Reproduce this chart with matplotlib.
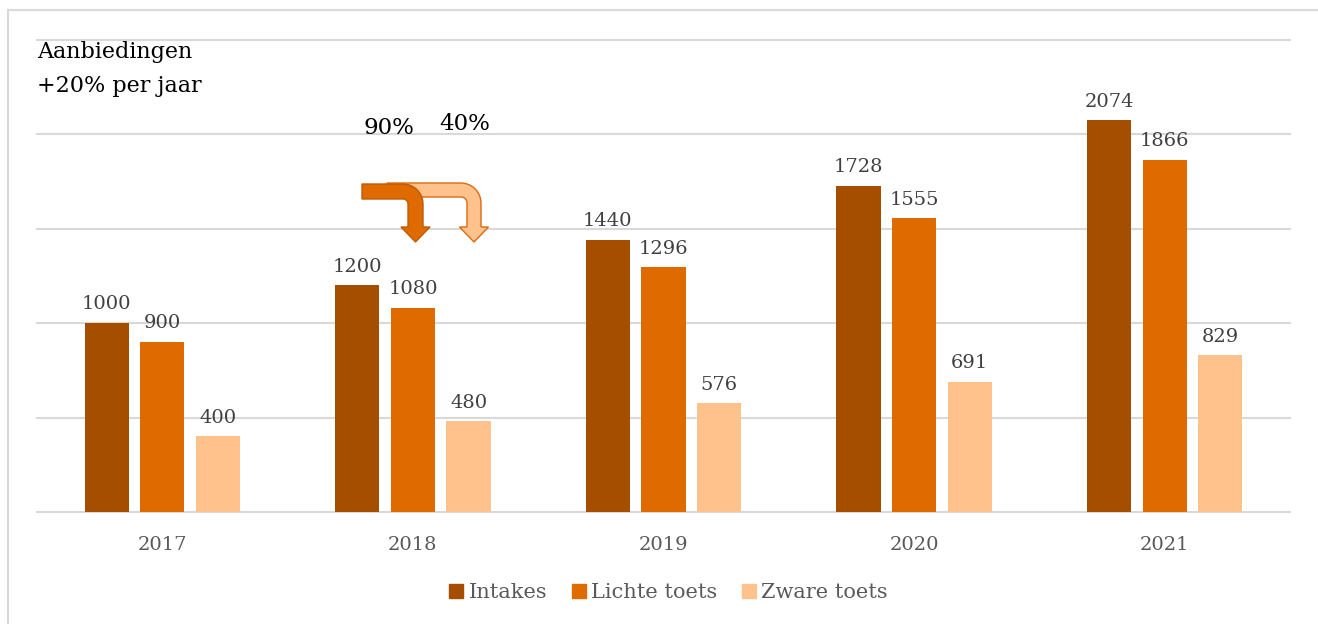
import matplotlib.pyplot as plt
import numpy as np
from matplotlib.patches import Polygon
from matplotlib.lines import Line2D

# Gegevens
years = ["2017", "2018", "2019", "2020", "2021"]
intakes = [1000, 1200, 1440, 1728, 2074]
lichte = [900, 1080, 1296, 1555, 1866]
zware = [400, 480, 576, 691, 829]
series_names = ["Intakes", "Lichte toets", "Zware toets"]
colors = ["#A64E00", "#DE6A00", "#FFC28C"]

W, H = 1318, 624
plt.rcParams['font.family'] = ['DejaVu Serif']

fig = plt.figure(figsize=(W / 100, H / 100), dpi=100)


def px(x, y):
    # pixel (vanaf linksboven) -> figuur-fractie
    return (x / W, 1 - y / H)


ax = fig.add_axes([37 / W, 1 - 512 / H, (1290 - 37) / W, (512 - 40) / H])

x = np.arange(len(years))
width = 0.176
step = 0.222
for i, (vals, name, c) in enumerate(zip([intakes, lichte, zware], series_names, colors)):
    pos = x + (i - 1) * step
    ax.bar(pos, vals, width, color=c, label=name, zorder=3)
    for p, v in zip(pos, vals):
        ax.annotate(str(v), (p, v), xytext=(0, 7), textcoords="offset points",
                    ha="center", va="bottom", fontsize=14, color="#404040")

ax.set_xlim(-0.5, len(years) - 0.5)
ax.set_ylim(0, 2500)
ax.set_yticks(np.arange(0, 2501, 500))
ax.set_yticklabels([])
ax.tick_params(axis="y", length=0)
ax.tick_params(axis="x", length=0, pad=17, labelsize=14, labelcolor="#595959")
ax.set_xticks(x)
ax.set_xticklabels(years)
ax.grid(axis="y", color="#d9d9d9", linewidth=1.5, zorder=0)
for gl in ax.get_ygridlines():
    gl.set_clip_on(False)
for s in ax.spines.values():
    s.set_visible(False)

# legenda
handles = [Line2D([], [], marker="s", linestyle="", markersize=10,
                  markerfacecolor=c, markeredgecolor=c) for c in colors]
fig.legend(handles, series_names, loc="center", bbox_to_anchor=px(668, 593),
           ncol=3, frameon=False, fontsize=15, labelcolor="#595959",
           handletextpad=0.2, columnspacing=1.1, handlelength=0.8)

# titel
fig.text(*px(37, 52), "Aanbiedingen", fontsize=16, va="center", ha="left")
fig.text(*px(37, 86), "+20% per jaar", fontsize=16, va="center", ha="left")
fig.text(*px(389, 128), "90%", fontsize=16.5, va="center", ha="center")
fig.text(*px(465, 124), "40%", fontsize=16.5, va="center", ha="center")


def bent_arrow(x0, ytop, xr, th, ytip, hw, hh, r, face, edge):
    # gebogen pijl: horizontaal naar rechts, dan omlaag
    pts = [(x0, ytop)]
    for a in np.linspace(90, 0, 10):
        pts.append((xr - r + r * np.cos(np.radians(a)), ytop + r - r * np.sin(np.radians(a))))
    xc = xr - th / 2
    pts += [(xr, ytip - hh), (xc + hw / 2, ytip - hh), (xc, ytip),
            (xc - hw / 2, ytip - hh), (xr - th, ytip - hh)]
    ri = max(r - th, 1)
    for a in np.linspace(0, 90, 10):
        pts.append((xr - th - ri + ri * np.cos(np.radians(a)), ytop + th + ri - ri * np.sin(np.radians(a))))
    pts.append((x0, ytop + th))
    poly = Polygon([px(a, b) for a, b in pts], closed=True, transform=fig.transFigure,
                   facecolor=face, edgecolor=edge, linewidth=1, zorder=5)
    fig.add_artist(poly)


bent_arrow(387, 183, 481, 14, 242, 29, 15, 20, "#FFC28C", "#D96B10")
bent_arrow(362, 184, 423, 15, 242, 29, 15, 20, "#DE6A00", "#C05A00")

# kader
fig.add_artist(Line2D([8 / W, 8 / W], [0, 1 - 10 / H], transform=fig.transFigure,
                      color="#d9d9d9", linewidth=1.5))
fig.add_artist(Line2D([8 / W, 1], [1 - 10 / H, 1 - 10 / H], transform=fig.transFigure,
                      color="#d9d9d9", linewidth=1.5))

fig.savefig("out.png", dpi=100)
